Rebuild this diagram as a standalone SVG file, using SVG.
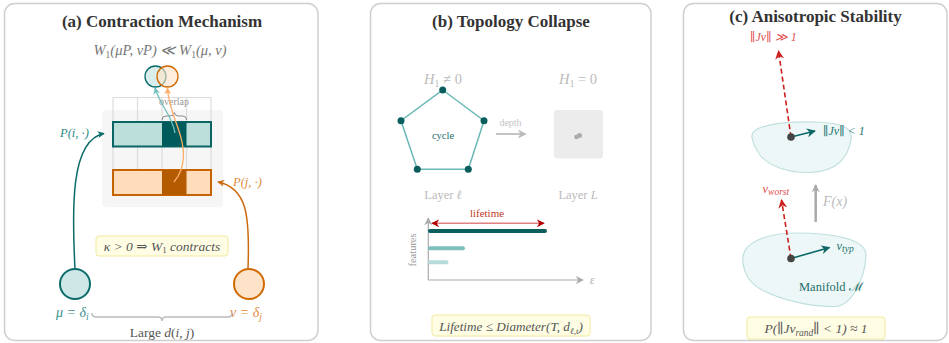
<svg xmlns="http://www.w3.org/2000/svg" width="949" height="343" viewBox="0 0 949 343">
<defs>
<style>
.panel{fill:#fff;stroke:#cfcfcf;stroke-width:1.5}
.title{font-family:"Liberation Serif",serif;font-weight:bold;font-size:17px;fill:#333;text-anchor:middle}
.m{font-family:"Liberation Serif","DejaVu Serif",serif;font-style:italic}
.r{font-family:"Liberation Serif","DejaVu Serif",serif}
.note{fill:#fffde3;stroke:#f3e9a0;stroke-width:1}
.grid{stroke:#dcdcdc;stroke-width:1.2;fill:none}
.blob{fill:#eef7f7;stroke:#c0e0df;stroke-width:1.2}
</style>
<marker id="mTeal" viewBox="0 0 10 10" refX="9" refY="5" markerWidth="7" markerHeight="7" orient="auto-start-reverse" markerUnits="userSpaceOnUse"><path d="M0,0 L10,5 L0,10 L3,5 Z" fill="#0b6b6b"/></marker>
<marker id="mOrange" viewBox="0 0 10 10" refX="9" refY="5" markerWidth="7" markerHeight="7" orient="auto-start-reverse" markerUnits="userSpaceOnUse"><path d="M0,0 L10,5 L0,10 L3,5 Z" fill="#cc6a10"/></marker>
<marker id="mLTeal" viewBox="0 0 10 10" refX="9" refY="5" markerWidth="7" markerHeight="7" orient="auto-start-reverse" markerUnits="userSpaceOnUse"><path d="M0,0 L10,5 L0,10 L3,5 Z" fill="#74c0bc"/></marker>
<marker id="mLOrange" viewBox="0 0 10 10" refX="9" refY="5" markerWidth="7" markerHeight="7" orient="auto-start-reverse" markerUnits="userSpaceOnUse"><path d="M0,0 L10,5 L0,10 L3,5 Z" fill="#ffae6a"/></marker>
<marker id="mGray" viewBox="0 0 10 10" refX="8" refY="5" markerWidth="9" markerHeight="9" orient="auto-start-reverse" markerUnits="userSpaceOnUse"><path d="M0,0 L10,5 L0,10 L3,5 Z" fill="#bbbbbb"/></marker>
<marker id="mAxis" viewBox="0 0 10 10" refX="9" refY="5" markerWidth="8" markerHeight="8" orient="auto-start-reverse" markerUnits="userSpaceOnUse"><path d="M0,0 L10,5 L0,10 L3,5 Z" fill="#aaaaaa"/></marker>
<marker id="mRed" viewBox="0 0 10 10" refX="9" refY="5" markerWidth="8" markerHeight="8" orient="auto-start-reverse" markerUnits="userSpaceOnUse"><path d="M0,0 L10,5 L0,10 L3,5 Z" fill="#b00000"/></marker>
<marker id="mRedD" viewBox="0 0 10 10" refX="9" refY="5" markerWidth="9" markerHeight="9" orient="auto-start-reverse" markerUnits="userSpaceOnUse"><path d="M0,0 L10,5 L0,10 L3,5 Z" fill="#cc1f1f"/></marker>
<marker id="mDTeal" viewBox="0 0 10 10" refX="9" refY="5" markerWidth="9" markerHeight="9" orient="auto-start-reverse" markerUnits="userSpaceOnUse"><path d="M0,0 L10,5 L0,10 L3,5 Z" fill="#0b6666"/></marker>
</defs>

<!-- Panels -->
<g id="panel-a">
<rect class="panel" x="4.5" y="3.5" width="313.5" height="337" rx="10"/>
<text class="title" x="162" y="27">(a) Contraction Mechanism</text>
<text class="m" x="160" y="55" font-size="14.5" fill="#777" text-anchor="middle">W<tspan font-size="9.5" dy="2.5" font-style="normal">1</tspan><tspan dy="-2.5">(μP, νP) ≪ W</tspan><tspan font-size="9.5" dy="2.5" font-style="normal">1</tspan><tspan dy="-2.5">(μ, ν)</tspan></text>
</g>
<g id="venn">
<circle cx="155.5" cy="76.5" r="10.5" fill="#cfe9e7" fill-opacity="0.8" stroke="#0b6b6b" stroke-width="1.3"/>
<circle cx="167.5" cy="76.5" r="10.5" fill="#ffe3c6" fill-opacity="0.6" stroke="#d06a00" stroke-width="1.3"/>
</g>
<g id="matrix">
<rect x="102" y="110" width="121" height="97" rx="4" fill="#f6f6f6"/>
<path class="grid" d="M113,97.5 H211 M113,97.5 V196 M137.5,97.5 V196 M162,97.5 V196 M186.5,97.5 V196 M211,97.5 V196"/>
<text class="r" x="174" y="105" font-size="10" fill="#999" text-anchor="middle">overlap</text>
<path d="M162,120 Q162,116 166,116 L170,116 Q174,116 174.3,112.5 Q174.6,116 178.6,116 L182.6,116 Q186.6,116 186.6,120" fill="none" stroke="#888" stroke-width="1"/>
<rect x="113" y="122" width="98" height="24.5" fill="#bddfdc" stroke="#0b6565" stroke-width="2"/>
<rect x="162" y="122" width="24.5" height="24.5" fill="#005c5c"/>
<rect x="113" y="170" width="98" height="25" fill="#ffdcba" stroke="#c86400" stroke-width="2"/>
<rect x="162" y="170" width="24.5" height="25" fill="#b45a00"/>
</g>
<g id="mu">
<circle cx="75" cy="284" r="15" fill="#cde8e6" stroke="#0b6b6b" stroke-width="2"/>
<text class="m" x="56" y="317" font-size="14" fill="#3a8f8c">μ = δ<tspan font-size="9.5" dy="3">i</tspan></text>
</g>
<g id="nu">
<circle cx="249" cy="284" r="15" fill="#ffe3c8" stroke="#d06a00" stroke-width="2"/>
<text class="m" x="230" y="317" font-size="14" fill="#e08a3a">ν = δ<tspan font-size="9.5" dy="3">j</tspan></text>
</g>
<g id="a-labels">
<text class="m" x="60" y="137" font-size="12.5" fill="#2a8a86">P(i, ·)</text>
<text class="m" x="233" y="186" font-size="12.5" fill="#e08a3a">P(j, ·)</text>
<path d="M92,313 Q92,317 96,317 L158,317 Q162,317 162,321 Q162,317 166,317 L228,317 Q232,317 232,313" fill="none" stroke="#bbb" stroke-width="1.5"/>
<text x="162" y="337" font-size="13.5" fill="#555" text-anchor="middle"><tspan class="r">Large </tspan><tspan class="m">d</tspan><tspan class="r">(</tspan><tspan class="m">i</tspan><tspan class="r">, </tspan><tspan class="m">j</tspan><tspan class="r">)</tspan></text>
<rect class="note" x="96" y="236" width="132" height="20" rx="3"/>
<text class="m" x="162" y="250.5" font-size="13.5" fill="#555" text-anchor="middle">κ &gt; 0 ⇒ W<tspan font-size="9" dy="2.5" font-style="normal">1</tspan><tspan dy="-2.5"> contracts</tspan></text>
</g>

<g id="panel-b">
<rect class="panel" x="370.5" y="3.5" width="280.5" height="337" rx="10"/>
<text class="title" x="511" y="27">(b) Topology Collapse</text>
<text class="m" x="443" y="84" font-size="14.5" fill="#bbb" text-anchor="middle">H<tspan font-size="10" dy="3" font-style="normal">1</tspan><tspan dy="-3" font-style="normal"> ≠ 0</tspan></text>
<text class="m" x="578" y="84" font-size="14.5" fill="#bbb" text-anchor="middle">H<tspan font-size="10" dy="3" font-style="normal">1</tspan><tspan dy="-3" font-style="normal"> = 0</tspan></text>
<text class="r" x="443" y="199" font-size="12.5" fill="#bbb" text-anchor="middle">Layer <tspan class="m">ℓ</tspan></text>
<text class="r" x="578" y="199" font-size="12.5" fill="#bbb" text-anchor="middle">Layer <tspan class="m">L</tspan></text>
</g>
<g id="cycle">
<polygon points="442.7,90 484,120.7 468.3,169.3 417.3,169.3 401,120.7" fill="none" stroke="#6ab8b5" stroke-width="1.5"/>
<g fill="#0a5e5e">
<circle cx="442.7" cy="90" r="3.5"/><circle cx="484" cy="120.7" r="3.5"/><circle cx="468.3" cy="169.3" r="3.5"/><circle cx="417.3" cy="169.3" r="3.5"/><circle cx="401" cy="120.7" r="3.5"/>
</g>
<text class="r" x="443" y="139" font-size="10.5" fill="#1a6e6c" text-anchor="middle">cycle</text>
</g>
<g id="collapsed">
<rect x="554" y="110" width="49" height="48.5" rx="3" fill="#ececec"/>
<circle cx="576.5" cy="137" r="2.3" fill="#aaa"/><circle cx="579.5" cy="135.5" r="2.5" fill="#aaa"/>
</g>
<g id="depth">
<text class="r" x="510.5" y="126" font-size="10" fill="#c4c4c4" text-anchor="middle">depth</text>
</g>
<g id="barcode">
<line x1="428.3" y1="280" x2="428.3" y2="218" stroke="#aaa" stroke-width="1.2" marker-end="url(#mAxis)"/>
<line x1="428.3" y1="280" x2="583" y2="280" stroke="#aaa" stroke-width="1.2" marker-end="url(#mAxis)"/>
<text class="m" x="590" y="284" font-size="11.5" fill="#aaa">ε</text>
<text class="r" x="0" y="0" font-size="10.5" fill="#999" text-anchor="middle" transform="translate(416,250) rotate(-90)">features</text>
<line x1="430" y1="231" x2="545" y2="231" stroke="#0a5e5e" stroke-width="4" stroke-linecap="round"/>
<line x1="430" y1="248.3" x2="463" y2="248.3" stroke="#7fc0bd" stroke-width="4" stroke-linecap="round"/>
<line x1="430" y1="262.3" x2="446.5" y2="262.3" stroke="#b6dcda" stroke-width="4" stroke-linecap="round"/>
<line x1="432" y1="223.3" x2="544" y2="223.3" stroke="#e08080" stroke-width="1.5" marker-start="url(#mRed)" marker-end="url(#mRed)"/>
<text class="r" x="487" y="217" font-size="11" fill="#c0392b" text-anchor="middle">lifetime</text>
<rect class="note" x="432" y="315" width="158" height="21" rx="3"/>
<text class="m" x="511" y="330.5" font-size="13.2" fill="#555" text-anchor="middle">Lifetime ≤ Diameter(T, d<tspan font-size="9" dy="3">ℓ,t</tspan><tspan dy="-3">)</tspan></text>
</g>

<g id="panel-c">
<rect class="panel" x="683.5" y="3.5" width="263.5" height="337" rx="10"/>
<text class="title" x="815.5" y="22">(c) Anisotropic Stability</text>
</g>
<g id="upper-manifold">
<path class="blob" d="M752,137 C750,125 785,121 815,122 C842,123 853,127 851,140 C848,158 836,172 810,172.5 C786,173 768,165 760,155 C755,148 752.5,143 752,137 Z"/>
<text class="m" x="750" y="41" font-size="12" fill="#e05050">∥Jv∥ ≫ 1</text>
<text class="m" x="823" y="135" font-size="12" fill="#1d7471">∥Jv∥ &lt; 1</text>
</g>
<g id="lower-manifold">
<path class="blob" d="M743,262 C740,242 768,233 797,233 C830,233 867,238 866,256 C865,276 853,306 835,306.5 C810,307 782,300 762,290 C749,283 744,273 743,262 Z"/>
<text class="r" x="799" y="291" font-size="12.5" fill="#1d6e6b">Manifold <tspan font-family="DejaVu Serif, serif" font-style="normal">ℳ</tspan></text>
<text class="m" x="762.5" y="193" font-size="12.5" fill="#e05050">v<tspan font-size="9.5" dy="2">worst</tspan></text>
<text class="m" x="836.5" y="250" font-size="12.5" fill="#1d7471">v<tspan font-size="9.5" dy="2">typ</tspan></text>
<text class="m" x="823" y="206" font-size="14" fill="#bbb">F(x)</text>
<rect class="note" x="747" y="317" width="138" height="22" rx="3"/>
<text class="m" x="816" y="333" font-size="13.5" fill="#555" text-anchor="middle">P(∥Jv<tspan font-size="9.5" dy="3">rand</tspan><tspan dy="-3">∥ &lt; 1) ≈ 1</tspan></text>
</g>

<g id="connectors">
<path d="M175,133 C172,115 160,105 155,88" fill="none" stroke="#74c0bc" stroke-width="1.3" marker-end="url(#mLTeal)"/>
<path d="M174,182 C188,165 184,145 178,128 C172,112 168,100 167.5,88" fill="none" stroke="#ffae6a" stroke-width="1.3" marker-end="url(#mLOrange)"/>
<path d="M75,269 C72,210 70,140 104,133.5" fill="none" stroke="#0b6b6b" stroke-width="1.5" marker-end="url(#mTeal)"/>
<path d="M248,269 C250,215 247,188 218,182" fill="none" stroke="#cc6a10" stroke-width="1.5" marker-end="url(#mOrange)"/>
<line x1="496" y1="134" x2="525" y2="134" stroke="#c4c4c4" stroke-width="2" marker-end="url(#mGray)"/>
<line x1="791" y1="137" x2="778.5" y2="51" stroke="#cc1f1f" stroke-width="1.6" stroke-dasharray="5,3" marker-end="url(#mRedD)"/>
<line x1="791" y1="137" x2="815" y2="131" stroke="#0b6666" stroke-width="1.6" marker-end="url(#mDTeal)"/>
<line x1="791" y1="258.5" x2="781.5" y2="200" stroke="#cc1f1f" stroke-width="1.6" stroke-dasharray="5,3" marker-end="url(#mRedD)"/>
<line x1="791" y1="258.5" x2="829.5" y2="247.5" stroke="#0b6666" stroke-width="1.6" marker-end="url(#mDTeal)"/>
<line x1="815.7" y1="222" x2="815.7" y2="185" stroke="#aaa" stroke-width="2.5" marker-end="url(#mAxis)"/>
<circle cx="791" cy="137" r="3.8" fill="#444"/>
<circle cx="791" cy="258.5" r="3.8" fill="#444"/>
</g>
</svg>
